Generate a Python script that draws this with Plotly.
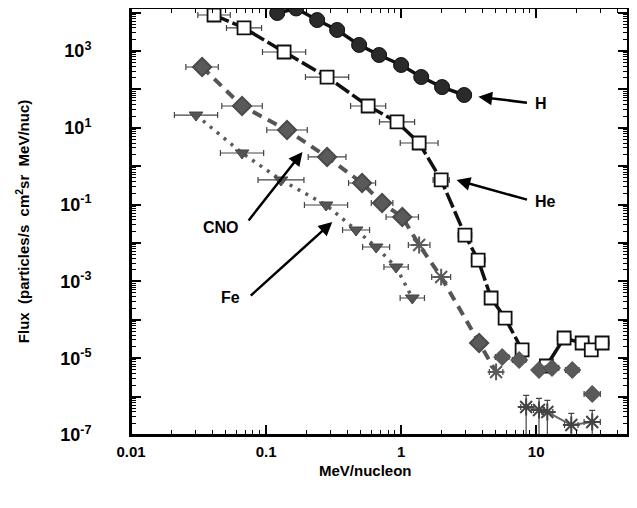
import plotly.graph_objects as go

# ---------------- data ----------------
h_x = [0.121, 0.167, 0.239, 0.336, 0.489, 0.687, 1.00, 1.41, 2.01, 2.93]
h_y = [9770, 12800, 6400, 3530, 1440, 787, 432, 210, 115, 71.5]
h_dex = [0.05] * 10

he_x = [0.0412, 0.0687, 0.136, 0.283, 0.570, 0.933, 1.36, 1.98, 2.97, 3.72, 4.64, 5.89, 7.87]
he_y = [8660, 3980, 942, 210, 37.0, 14.2, 4.02, 0.438, 0.0161, 0.00360, 0.000370, 0.000111, 1.64e-5]
he_dex = [0.12, 0.13, 0.16, 0.16, 0.13, 0.13, 0.14, 0.06, 0.05, 0.05, 0.04, 0.04, 0.04]

he_hi_x = [11.9, 16.1, 21.9, 25.6, 30.8]
he_hi_y = [6.27e-6, 3.36e-5, 2.49e-5, 1.64e-5, 2.49e-5]
he_hi_dex = [0.04, 0.05, 0.05, 0.04, 0.05]

cno_x = [0.0336, 0.0664, 0.143, 0.283, 0.514, 0.723, 1.02, 1.36, 1.98, 3.78, 5.05]
cno_y = [383, 37.0, 8.77, 1.74, 0.365, 0.110, 0.0475, 0.00887, 0.00130, 2.49e-5, 4.38e-6]
cno_dex = [0.12, 0.15, 0.15, 0.14, 0.1, 0.08, 0.12, 0.08, 0.07, 0.05, 0.05]

fe_x = [0.0303, 0.0664, 0.129, 0.278, 0.464, 0.653, 0.918, 1.21]
fe_y = [21.5, 2.21, 0.438, 0.0977, 0.0218, 0.00787, 0.00237, 0.000370]
fe_dex = [0.16, 0.16, 0.17, 0.16, 0.1, 0.1, 0.09, 0.09]

hi_x = [5.60, 7.48, 10.5, 13.1, 18.5, 26.0]
hi_y = [1.07e-5, 8.97e-6, 4.93e-6, 5.56e-6, 4.93e-6, 1.17e-6]
hi_dex = [0.05, 0.05, 0.04, 0.05, 0.05, 0.06]

low_x = [8.43, 10.5, 12.1, 18.2, 26.0]
low_y = [5.36e-7, 4.48e-7, 3.97e-7, 1.82e-7, 2.18e-7]
low_dex = [0.04, 0.04, 0.04, 0.05, 0.06]

x_ticks = [0.01, 0.1, 1, 10]
x_tick_text = ["0.01", "0.1", "1", "10"]
y_labelled = [3, 1, -1, -3, -5, -7]
y_unlabelled = [4, 2, 0, -2, -4, -6]

X_RANGE = [-2.0, 1.68]
Y_RANGE = [-7.0, 4.12]


def xerr(xs, dex):
    plus = [x * (10 ** d - 1) for x, d in zip(xs, dex)]
    minus = [x * (1 - 10 ** -d) for x, d in zip(xs, dex)]
    return dict(type="data", symmetric=False, array=plus, arrayminus=minus,
                color="#444", thickness=1.2, width=3)


fig = go.Figure()

# Fe  (on left overlay axis y2, identical scale)
fig.add_trace(go.Scatter(
    x=fe_x, y=fe_y, mode="lines+markers", xaxis="x", yaxis="y2",
    line=dict(color="#5a5a5a", width=3.5, dash="3px,6px"),
    marker=dict(symbol="triangle-down", size=12, color="#555",
                line=dict(color="#444", width=1)),
    error_x=xerr(fe_x, fe_dex), showlegend=False))

# CNO
cno_sym = ["diamond"] * 7 + ["asterisk-open"] * 2 + ["diamond", "asterisk-open"]
fig.add_trace(go.Scatter(
    x=cno_x, y=cno_y, mode="lines+markers",
    line=dict(color="#555", width=4, dash="10px,7px"),
    marker=dict(symbol=cno_sym, size=14, color="#5a5a5a",
                line=dict(color="#4a4a4a", width=2)),
    error_x=xerr(cno_x, cno_dex), showlegend=False))

# high energy diamonds (on top overlay axis x2, identical scale)
fig.add_trace(go.Scatter(
    x=hi_x, y=hi_y, mode="markers", xaxis="x2", yaxis="y",
    marker=dict(symbol="diamond", size=13, color="#5a5a5a",
                line=dict(color="#4a4a4a", width=1)),
    error_x=xerr(hi_x, hi_dex), showlegend=False))

# low asterisks (on right overlay axis y3, identical scale)
fig.add_trace(go.Scatter(
    x=low_x, y=low_y, mode="lines+markers", xaxis="x", yaxis="y3",
    line=dict(color="#666", width=2),
    marker=dict(symbol="asterisk-open", size=14, color="#444",
                line=dict(color="#444", width=2)),
    error_x=xerr(low_x, low_dex),
    error_y=dict(type="data", symmetric=False,
                 array=[y * 1.0 for y in low_y],
                 arrayminus=[y * 0.99 for y in low_y],
                 color="#444", thickness=1.2, width=3),
    showlegend=False))

# He
fig.add_trace(go.Scatter(
    x=he_x, y=he_y, mode="lines+markers",
    line=dict(color="#111", width=3.5, dash="16px,4px"),
    marker=dict(symbol="square", size=13, color="white",
                line=dict(color="#111", width=1.8)),
    error_x=xerr(he_x, he_dex), showlegend=False))

fig.add_trace(go.Scatter(
    x=he_hi_x, y=he_hi_y, mode="lines+markers",
    line=dict(color="#111", width=3.5),
    marker=dict(symbol="square", size=13, color="white",
                line=dict(color="#111", width=1.8)),
    error_x=xerr(he_hi_x, he_hi_dex), showlegend=False))

# H
fig.add_trace(go.Scatter(
    x=h_x, y=h_y, mode="lines+markers", cliponaxis=False,
    line=dict(color="#111", width=3.5),
    marker=dict(symbol="circle", size=15, color="#2a2a2a",
                line=dict(color="#111", width=1)),
    error_x=xerr(h_x, h_dex), showlegend=False))

bold = dict(family="Liberation Sans, Arial, sans-serif", color="black", weight="bold")

y_minor = [m * 10 ** d for d in range(-7, 5) for m in range(2, 10)]
x_minor = [m * 10 ** d for d in range(-2, 2) for m in range(2, 10)]
tick_common = dict(ticks="inside", ticklen=10, tickwidth=1.5, tickcolor="black",
                   showgrid=False, zeroline=False, automargin=False)
minor_common = dict(ticks="inside", ticklen=5, tickwidth=1.2, tickcolor="black")

fig.update_layout(
    xaxis=dict(type="log", range=X_RANGE, tickvals=x_ticks, ticktext=x_tick_text,
               minor=dict(tickvals=x_minor, **minor_common),
               showline=True, linewidth=2, linecolor="black",
               tickfont=dict(size=15, **bold), ticklabelstandoff=2, **tick_common),
    xaxis2=dict(type="log", range=X_RANGE, overlaying="x", anchor="y", side="top",
                tickvals=x_ticks, showticklabels=False,
                minor=dict(tickvals=x_minor, **minor_common),
                showline=True, linewidth=2, linecolor="black", **tick_common),
    yaxis=dict(type="log", range=Y_RANGE,
               tickvals=[10 ** d for d in y_labelled],
               ticktext=["10<sup>%d</sup>" % d for d in y_labelled],
               minor=dict(tickvals=y_minor, **minor_common),
               showline=True, linewidth=2, linecolor="black",
               tickfont=dict(size=18, **bold), ticklabelstandoff=34, **tick_common),
    yaxis2=dict(type="log", range=Y_RANGE, overlaying="y", anchor="x", side="left",
                tickvals=[10 ** d for d in y_unlabelled], showticklabels=False,
                showline=False, **tick_common),
    yaxis3=dict(type="log", range=Y_RANGE, overlaying="y", anchor="x", side="right",
                tickvals=[10 ** d for d in range(-7, 5)], showticklabels=False,
                minor=dict(tickvals=y_minor, **minor_common),
                showline=True, linewidth=2, linecolor="black", **tick_common),
)

ann = []
ann.append(dict(xref="paper", yref="paper", x=-0.218, y=0.50, showarrow=False,
                xanchor="center", yanchor="middle", textangle=-90,
                text="Flux  (particles/s  cm<sup>2</sup>sr  MeV/nuc)",
                font=dict(size=15, **bold)))
ann.append(dict(xref="paper", yref="paper", x=0.471, y=-0.082, showarrow=False,
                xanchor="center", yanchor="middle",
                text="MeV/nucleon", font=dict(size=15, **bold)))
arrows = [(0.699, 0.792, 50, 6), (0.655, 0.597, 72, 20),
          (0.345, 0.663, -55, 70), (0.405, 0.499, -83, 75)]
for ax_, ay_, dx, dy in arrows:
    ann.append(dict(xref="paper", yref="paper", x=ax_, y=ay_, ax=dx, ay=dy,
                    text="", showarrow=True, arrowhead=2, arrowsize=1.1,
                    arrowwidth=2.5, arrowcolor="black"))
labels = [("H", 0.824, 0.776), ("He", 0.834, 0.548), ("CNO", 0.182, 0.487), ("Fe", 0.200, 0.321)]
for t, lx, ly in labels:
    ann.append(dict(xref="paper", yref="paper", x=lx, y=ly, text=t, showarrow=False,
                    xanchor="center", yanchor="middle",
                    font=dict(size=16, **bold)))

# The page body has an 8px margin; the figure is sized so that the page does
# not overflow the 637x508 window (no scrollbars) and the plot area lands at
# about x 131..628, y 8..435 of the window.
fig.update_layout(
    width=621, height=492,
    margin=dict(l=123, r=1, t=0, b=65, autoexpand=False),
    plot_bgcolor="white", paper_bgcolor="white",
    shapes=[dict(type="rect", xref="paper", yref="paper", x0=0, y0=0, x1=1, y1=1,
                 line=dict(color="black", width=2), layer="above")],
    annotations=ann, showlegend=False)

fig.write_html("out.html")
